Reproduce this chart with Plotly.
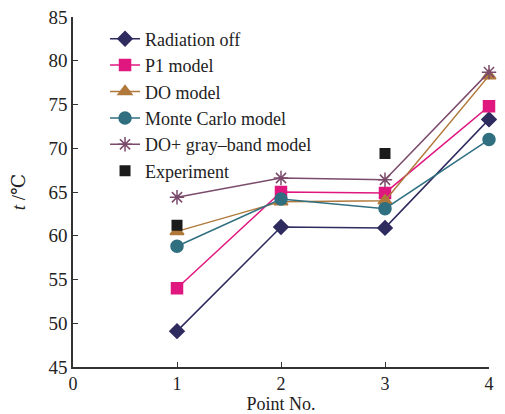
import plotly.graph_objects as go

points = [1, 2, 3, 4]
radiation_off = [49.1, 61.0, 60.9, 73.3]
p1_model = [54.0, 65.0, 64.9, 74.8]
do_model = [60.5, 63.9, 64.0, 78.3]
monte_carlo = [58.8, 64.2, 63.1, 71.0]
do_gray = [64.4, 66.6, 66.4, 78.7]
exp_points = [1, 3]
experiment = [61.2, 69.4]
y_ticks = [45, 50, 55, 60, 65, 70, 75, 80, 85]
x_ticks = [0, 1, 2, 3, 4]

series = [
    ("Radiation off", radiation_off, "#2e2b5f", "diamond", 11),
    ("P1 model", p1_model, "#e0177f", "square", 11),
    ("DO model", do_model, "#b0783a", "triangle-up", 12),
    ("Monte Carlo model", monte_carlo, "#2f6f80", "circle", 12),
    ("DO+ gray\u2013band model", do_gray, "#7b4b6c", "asterisk-open", 12),
]

fig = go.Figure()
for name, vals, col, sym, sz in series:
    fig.add_trace(go.Scatter(
        x=points, y=vals, name=name, mode="lines+markers",
        line=dict(color=col, width=1.5),
        marker=dict(symbol=sym, size=sz, color=col, line=dict(color=col, width=1.5)),
        cliponaxis=False,
    ))
fig.add_trace(go.Scatter(
    x=exp_points, y=experiment, name="Experiment", mode="markers",
    marker=dict(symbol="square", size=11, color="#1b1b1b"),
))

font = "'Liberation Serif', 'DejaVu Serif', serif"
fig.update_layout(
    width=497, height=406,
    margin=dict(l=65, r=16, t=9, b=47),
    paper_bgcolor="white", plot_bgcolor="white",
    font=dict(family=font, color="#222"),
    showlegend=True,
    legend=dict(x=0.077, y=0.99, xanchor="left", yanchor="top",
                font=dict(family=font, size=18, color="#222"),
                bgcolor="rgba(0,0,0,0)", tracegroupgap=0, itemwidth=30),
    xaxis=dict(range=[0, 4], tickvals=x_ticks, showgrid=False, zeroline=False,
               automargin=False, ticklabeloverflow="allow",
               showline=True, linecolor="#333", linewidth=1.5,
               ticks="inside", ticklen=5, tickcolor="#333",
               tickfont=dict(family=font, size=18, color="#222"),
               title=dict(text="Point No.", font=dict(family=font, size=18, color="#222"), standoff=3)),
    yaxis=dict(range=[45, 85], tickvals=y_ticks, showgrid=False, zeroline=False,
               automargin=False, ticklabeloverflow="allow",
               showline=True, linecolor="#333", linewidth=1.5,
               ticks="inside", ticklen=5, tickcolor="#333",
               tickfont=dict(family=font, size=19, color="#222"),
               title=dict(text="<i>t</i> /\u2103", font=dict(family=font, size=19, color="#222"), standoff=20)),
)
fig.write_html("out.html")
